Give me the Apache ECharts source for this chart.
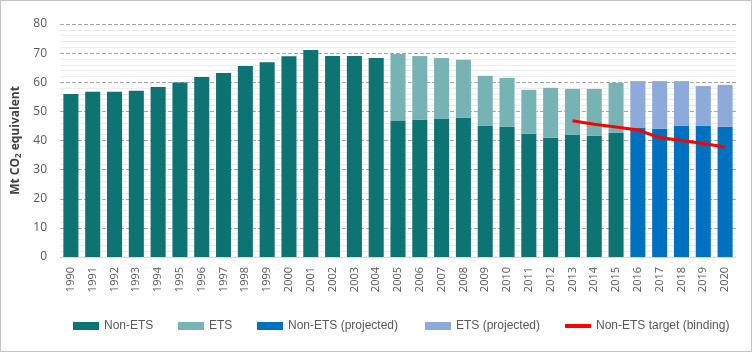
<!DOCTYPE html>
<html>
<head>
<meta charset="utf-8">
<script src="https://cdn.jsdelivr.net/npm/echarts@6/dist/echarts.min.js"></script>
<style>
	html, body { margin: 0; padding: 0; background: #fff; }
	#chart { width: 750px; height: 350px; border: 1px solid #c4c4c4; }
</style>
</head>
<body>
<div id="chart"></div>
<script>
	// years on the x axis
	var years = ['1990','1991','1992','1993','1994','1995','1996','1997','1998','1999','2000',
		'2001','2002','2003','2004','2005','2006','2007','2008','2009','2010',
		'2011','2012','2013','2014','2015','2016','2017','2018','2019','2020'];

	// Mt CO2 eq
	var nonEts = [56.0, 56.7, 56.7, 57.1, 58.4, 59.9, 61.8, 63.2, 65.6, 66.9, 68.9,
		71.1, 69.0, 69.0, 68.3, 46.7, 47.1, 47.4, 47.8, 45.0, 44.7,
		42.3, 40.9, 41.9, 41.6, 42.6, null, null, null, null, null];
	var ets = [null, null, null, null, null, null, null, null, null, null, null,
		null, null, null, null, 23.0, 21.9, 20.9, 19.9, 17.2, 16.8,
		15.1, 17.2, 15.8, 16.1, 17.2, null, null, null, null, null];
	var nonEtsProj = [null, null, null, null, null, null, null, null, null, null, null,
		null, null, null, null, null, null, null, null, null, null,
		null, null, null, null, null, 44.3, 44.0, 45.0, 45.0, 44.7];
	var etsProj = [null, null, null, null, null, null, null, null, null, null, null,
		null, null, null, null, null, null, null, null, null, null,
		null, null, null, null, null, 16.1, 16.4, 15.4, 13.7, 14.4];
	var target = [null, null, null, null, null, null, null, null, null, null, null,
		null, null, null, null, null, null, null, null, null, null,
		null, null, 46.8, 45.6, 44.6, 43.6, 41.0, 40.0, 39.0, 37.8];

	var txt = '#595959';
	var chart = echarts.init(document.getElementById('chart'));

	function bar(name, data, color) {
		return {
			name: name,
			type: 'bar',
			stack: 'total',
			barCategoryGap: '31%',
			itemStyle: { color: color },
			data: data
		};
	}

	// one legend per item so each sits where the original has it
	function legendAt(left, name, icon) {
		return {
			left: left,
			top: 314,
			itemWidth: 26,
			itemHeight: 8,
			itemGap: 0,
			textStyle: { color: txt, fontSize: 12, fontFamily: 'Liberation Sans' },
			data: [{ name: name, icon: icon }]
		};
	}

	var option = {
		animation: false,
		textStyle: { fontFamily: 'Open Sans' },
		grid: { left: 59, right: 15, top: 23, bottom: 94 },
		legend: [
			legendAt(67, 'Non-ETS', 'rect'),
			legendAt(172, 'ETS', 'rect'),
			legendAt(251, 'Non-ETS (projected)', 'rect'),
			legendAt(419, 'ETS (projected)', 'rect'),
			legendAt(559, 'Non-ETS target (binding)', 'path://M0,0H26V4H0Z')
		],
		xAxis: {
			type: 'category',
			data: years,
			axisTick: { show: false },
			axisLine: { lineStyle: { color: '#d9d9d9' } },
			axisLabel: { rotate: 90, color: txt, fontSize: 11, interval: 0, margin: 10 }
		},
		yAxis: {
			type: 'value',
			min: 0,
			max: 80,
			interval: 10,
			name: 'Mt CO{sub|2} equivalent',
			nameLocation: 'middle',
			nameGap: 31,
			nameTextStyle: {
				color: '#404040',
				fontSize: 12,
				fontWeight: 'bold',
				rich: { sub: { fontSize: 8, fontWeight: 'bold', color: '#404040', verticalAlign: 'bottom', padding: [6, 0, 0, 0] } }
			},
			axisLabel: { color: txt, fontSize: 12, margin: 13 },
			splitLine: { lineStyle: { color: '#a6a6a6', type: 'dashed' } },
			minorTick: { show: false, splitNumber: 5 },
			minorSplitLine: { show: true, lineStyle: { color: '#ececec' } }
		},
		series: [
			bar('Non-ETS', nonEts, '#0e7373'),
			bar('Non-ETS (projected)', nonEtsProj, '#0070c0'),
			bar('ETS', ets, '#77b3b5'),
			bar('ETS (projected)', etsProj, '#8eaadb'),
			{
				name: 'Non-ETS target (binding)',
				type: 'line',
				data: target,
				symbol: 'none',
				lineStyle: { color: '#ff0000', width: 3 },
				itemStyle: { color: '#ff0000' },
				z: 5
			}
		]
	};
	chart.setOption(option);
	window.addEventListener('resize', function() {
		chart.resize();
	});
</script>
</body>
</html>
